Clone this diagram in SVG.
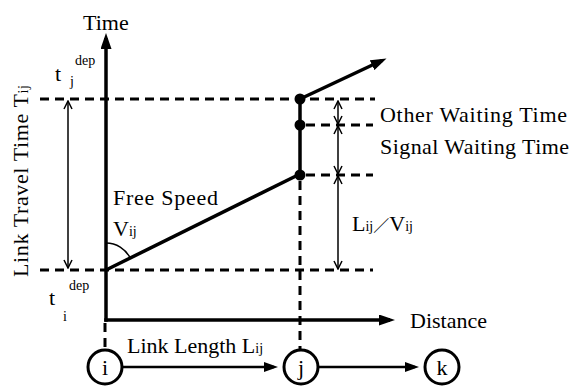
<svg xmlns="http://www.w3.org/2000/svg" width="574" height="389" viewBox="0 0 574 389">
<style>
text{font-family:"Liberation Serif","Noto Sans CJK JP",serif;fill:#000}
.lbl{font-size:22px}
.sub{font-size:14px}
.dash{stroke:#000;stroke-width:3;stroke-dasharray:9 6;fill:none}
.axis{stroke:#000;stroke-width:3.5;fill:none}
.thin{stroke:#000;stroke-width:1.5;fill:none}
.node circle{fill:#fff;stroke:#000;stroke-width:3}
.node text{font-size:22px;text-anchor:middle}
.link{stroke:#000;stroke-width:2.5}
</style>
<defs>
<marker id="big" markerUnits="userSpaceOnUse" markerWidth="16" markerHeight="11" refX="11" refY="5.5" orient="auto">
<path d="M0,0 L16,5.5 L0,11 z" fill="#000"/>
</marker>
<marker id="mid" markerUnits="userSpaceOnUse" markerWidth="14" markerHeight="10" refX="10" refY="5" orient="auto">
<path d="M0,0 L14,5 L0,10 z" fill="#000"/>
</marker>
<marker id="open" markerUnits="userSpaceOnUse" markerWidth="10" markerHeight="10" refX="9" refY="5" orient="auto-start-reverse">
<path d="M1,1 L9,5 L1,9" fill="none" stroke="#000" stroke-width="1.5"/>
</marker>
</defs>

<g id="guides">
<line class="dash" x1="40" y1="99" x2="375" y2="99"/>
<line class="dash" x1="40" y1="270" x2="373" y2="270"/>
<line class="dash" x1="306" y1="125" x2="373" y2="125"/>
<line class="dash" x1="306" y1="175" x2="373" y2="175"/>
<line class="dash" x1="300" y1="181" x2="300" y2="349"/>
<line class="dash" x1="105" y1="323" x2="105" y2="350"/>
</g>

<g id="axes">
<line class="axis" x1="106" y1="321.75" x2="106" y2="40"/>
<line class="axis" x1="104.25" y1="320" x2="390" y2="320"/>
<path class="axis" d="M106,49 L106,38" marker-end="url(#big)"/>
<path class="axis" d="M380,320 L390,320" marker-end="url(#big)"/>
<text class="lbl" x="83" y="30">Time</text>
<text class="lbl" x="410" y="328">Distance</text>
</g>

<g id="trajectory">
<line class="axis" x1="106" y1="270" x2="300" y2="174"/>
<line class="axis" x1="300" y1="175" x2="300" y2="99"/>
<line class="axis" x1="300" y1="99" x2="382" y2="60.5" marker-end="url(#big)"/>
<circle cx="300" cy="175" r="5.5"/>
<circle cx="300" cy="125" r="5.5"/>
<circle cx="300" cy="99" r="5.5"/>
<path class="thin" d="M106,243 A27,27 0 0 1 130.2,258"/>
<text class="lbl" x="113" y="205" textLength="105">Free Speed</text>
<text class="lbl" x="113" y="236">V<tspan class="sub">ij</tspan></text>
</g>

<g id="intervals">
<line class="thin" x1="68" y1="101" x2="68" y2="268" marker-start="url(#open)" marker-end="url(#open)"/>
<line class="thin" x1="338" y1="101" x2="338" y2="124" marker-start="url(#open)" marker-end="url(#open)"/>
<line class="thin" x1="338" y1="126" x2="338" y2="174" marker-start="url(#open)" marker-end="url(#open)"/>
<line class="thin" x1="338" y1="176" x2="338" y2="269" marker-start="url(#open)" marker-end="url(#open)"/>
<text class="lbl" x="380" y="122" textLength="187">Other Waiting Time</text>
<text class="lbl" x="380" y="154" textLength="189">Signal Waiting Time</text>
<text class="lbl" x="352" y="231">L<tspan class="sub">ij</tspan><tspan font-size="16">／</tspan>V<tspan class="sub">ij</tspan></text>
<text class="lbl" transform="translate(28,181) rotate(-90)" text-anchor="middle" textLength="192">Link Travel Time T<tspan class="sub">ij</tspan></text>
<text class="lbl" x="55" y="81">t</text>
<text class="sub" x="75" y="65">dep</text>
<text class="sub" x="70" y="86">j</text>
<text class="lbl" x="49" y="305">t</text>
<text class="sub" x="69" y="290">dep</text>
<text class="sub" x="63" y="321">i</text>
</g>

<g id="node-i" class="node">
<circle cx="105" cy="367" r="17"/>
<text x="105" y="375">i</text>
</g>
<g id="node-j" class="node">
<circle cx="301" cy="367" r="17"/>
<text x="301" y="375">j</text>
</g>
<g id="node-k" class="node">
<circle cx="442" cy="367" r="17"/>
<text x="442" y="375">k</text>
</g>

<g id="connectors">
<line class="link" x1="122" y1="367" x2="274" y2="367" marker-end="url(#mid)"/>
<line class="link" x1="318" y1="367" x2="415" y2="367" marker-end="url(#mid)"/>
<text class="lbl" x="127" y="353">Link Length L<tspan class="sub">ij</tspan></text>
</g>
</svg>
